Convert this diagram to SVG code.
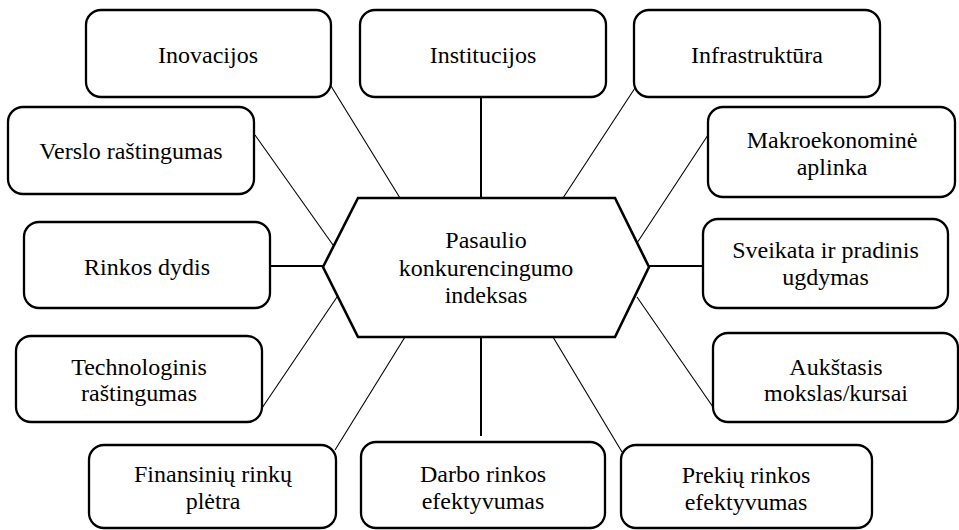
<svg xmlns="http://www.w3.org/2000/svg" width="959" height="530" viewBox="0 0 959 530">
<style>
.box{fill:#fff;stroke:#000;stroke-width:2.3}
.hex{fill:#fff;stroke:#000;stroke-width:2.6;stroke-linejoin:miter}
.thin{stroke:#000;stroke-width:1.1;fill:none}
.thick{stroke:#000;stroke-width:2;fill:none}
text{font-family:'Liberation Serif','DejaVu Serif','Times New Roman',serif;font-size:24px;fill:#000;text-anchor:middle}
</style>
<rect width="959" height="530" fill="#fff"/>
<g id="connectors">
<line class="thin" x1="331" y1="86" x2="400" y2="198"/>
<line class="thick" x1="481" y1="97" x2="481" y2="198"/>
<line class="thin" x1="635" y1="88" x2="563" y2="198"/>
<line class="thin" x1="255" y1="135" x2="333" y2="245"/>
<line class="thin" x1="708" y1="135" x2="637" y2="243"/>
<line class="thick" x1="270" y1="266" x2="323" y2="266"/>
<line class="thick" x1="649" y1="266" x2="703" y2="266"/>
<line class="thin" x1="262" y1="408" x2="337" y2="297"/>
<line class="thin" x1="637" y1="297" x2="713" y2="407"/>
<line class="thin" x1="335" y1="450" x2="405" y2="337"/>
<line class="thick" x1="481" y1="337" x2="481" y2="436"/>
<line class="thin" x1="553" y1="337" x2="622" y2="452"/>
</g>
<g id="center">
<polygon class="hex" points="323,267 358,198 615,198 649,267 615,337 358,337"/>
<text x="486" y="248" font-family="Liberation Serif, serif">Pasaulio</text>
<text x="486" y="276" font-family="Liberation Serif, serif">konkurencingumo</text>
<text x="486" y="303" font-family="Liberation Serif, serif">indeksas</text>
</g>
<g id="inovacijos">
<rect class="box" x="86" y="10" width="245" height="87" rx="15"/>
<text x="208" y="63">Inovacijos</text>
</g>
<g id="institucijos">
<rect class="box" x="360" y="10" width="246" height="87" rx="15"/>
<text x="483" y="63">Institucijos</text>
</g>
<g id="infrastruktura">
<rect class="box" x="634" y="10" width="246" height="87" rx="15"/>
<text x="757" y="63">Infrastruktūra</text>
</g>
<g id="verslo">
<rect class="box" x="8" y="107" width="246" height="87" rx="15"/>
<text x="131" y="159">Verslo raštingumas</text>
</g>
<g id="makro">
<rect class="box" x="708" y="107" width="247" height="90" rx="15"/>
<text x="832" y="148">Makroekonominė</text>
<text x="832" y="175">aplinka</text>
</g>
<g id="rinkos-dydis">
<rect class="box" x="24" y="222" width="246" height="86" rx="15"/>
<text x="147" y="275">Rinkos dydis</text>
</g>
<g id="sveikata">
<rect class="box" x="703" y="219" width="245" height="89" rx="15"/>
<text x="825.5" y="258">Sveikata ir pradinis</text>
<text x="825.5" y="285">ugdymas</text>
</g>
<g id="technologinis">
<rect class="box" x="16" y="336" width="246" height="86" rx="15"/>
<text x="139" y="375">Technologinis</text>
<text x="139" y="401">raštingumas</text>
</g>
<g id="aukstasis">
<rect class="box" x="713" y="333" width="245" height="89" rx="15"/>
<text x="836" y="375">Aukštasis</text>
<text x="836" y="401">mokslas/kursai</text>
</g>
<g id="finansiniu">
<rect class="box" x="89" y="445" width="247" height="83" rx="15"/>
<text x="213" y="482">Finansinių rinkų</text>
<text x="213" y="509">plėtra</text>
</g>
<g id="darbo">
<rect class="box" x="361" y="442" width="244" height="86" rx="15"/>
<text x="483" y="482">Darbo rinkos</text>
<text x="483" y="509">efektyvumas</text>
</g>
<g id="prekiu">
<rect class="box" x="621" y="445" width="251" height="83" rx="15"/>
<text x="746" y="483">Prekių rinkos</text>
<text x="746" y="510">efektyvumas</text>
</g>
</svg>
